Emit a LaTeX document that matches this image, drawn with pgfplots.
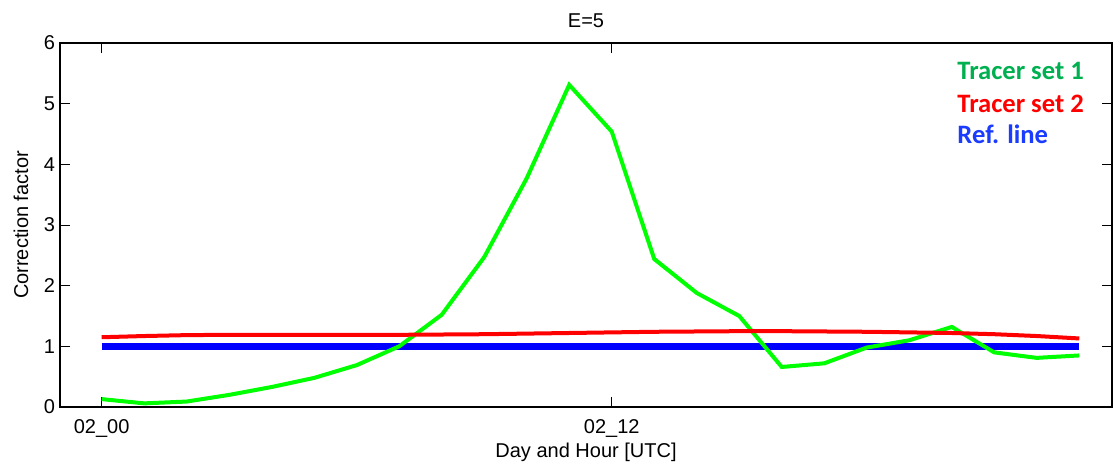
\documentclass[border=0pt]{standalone}
\usepackage{pgfplots}
\pgfplotsset{compat=1.18}
\usepackage{fontspec}
\setmainfont{Liberation Sans}
\newfontfamily\calibri{Carlito}
\definecolor{trgreen}{HTML}{00FF00}
\definecolor{trred}{HTML}{FF0000}
\definecolor{trblue}{HTML}{0000FF}
\definecolor{lggreen}{HTML}{00B050}
\definecolor{lgblue}{HTML}{1A3CFF}
\begin{document}
\begin{tikzpicture}
\useasboundingbox (-30pt,-28pt) rectangle (526.5pt,203.5pt);
\begin{axis}[
  scale only axis,
  width=526pt, height=182pt,
  xmin=-0.98, xmax=23.77, ymin=0, ymax=6,
  axis line style={black, line width=0.6pt},
  tick style={black, line width=0.5pt},
  major tick length=5pt,
  tick align=inside,
  xtick={0,12}, xticklabels={02\_00,02\_12},
  ytick={0,1,2,3,4,5,6},
  every tick label/.style={font=\fontsize{10}{11}\selectfont},
  /pgf/number format/assume math mode=true,
  xticklabel style={anchor=base, yshift=-13pt},
  yticklabel style={xshift=1pt},
  title={E=5},
  title style={font=\fontsize{10}{11}\selectfont, at={(axis description cs:0.5,1)}, anchor=base, yshift=2pt},
  xlabel={Day and Hour [UTC]},
  xlabel style={font=\fontsize{10}{11}\selectfont, at={(axis description cs:0.5,-0.1374)}, anchor=base},
  ylabel={Correction factor},
  ylabel style={font=\fontsize{10}{11}\selectfont, at={(axis description cs:-0.0304,0.5)}, anchor=base, rotate=0},
  clip=false,
]
% reference line
\addplot[trblue, line width=3.5pt] coordinates {(0,1) (23,1)};
% tracer set 1
\addplot[trgreen, line width=2pt, line join=miter] coordinates {
(0,0.13) (1,0.06) (2,0.09) (3,0.20) (4,0.33) (5,0.48) (6,0.69)
(7,1.00) (8,1.52) (9,2.47) (10,3.77) (11,5.31) (12,4.54) (13,2.44)
(14,1.88) (15,1.50) (16,0.66) (17,0.72) (18,0.98) (19,1.10) (20,1.32)
(21,0.90) (22,0.81) (23,0.85)
};
% tracer set 2
\addplot[trred, line width=2pt] coordinates {
(0,1.15) (1,1.17) (2,1.185) (3,1.19) (4,1.19) (5,1.19) (6,1.19)
(7,1.19) (8,1.195) (9,1.20) (10,1.21) (11,1.22) (12,1.23) (13,1.24)
(14,1.245) (15,1.25) (16,1.25) (17,1.245) (18,1.24) (19,1.23) (20,1.22)
(21,1.20) (22,1.17) (23,1.13)
};
\node[anchor=base west, text=lggreen, font=\calibri\bfseries\fontsize{13.3}{14}\selectfont, inner sep=0pt]
  at (rel axis cs:0.8527,0.901) {Tracer set 1};
\node[anchor=base west, text=trred, font=\calibri\bfseries\fontsize{13.3}{14}\selectfont, inner sep=0pt]
  at (rel axis cs:0.8527,0.8104) {Tracer set 2};
\node[anchor=base west, text=lgblue, font=\calibri\bfseries\fontsize{13.3}{14}\selectfont, inner sep=0pt]
  at (rel axis cs:0.8527,0.7253) {Ref. line};
\end{axis}
\end{tikzpicture}
\end{document}
